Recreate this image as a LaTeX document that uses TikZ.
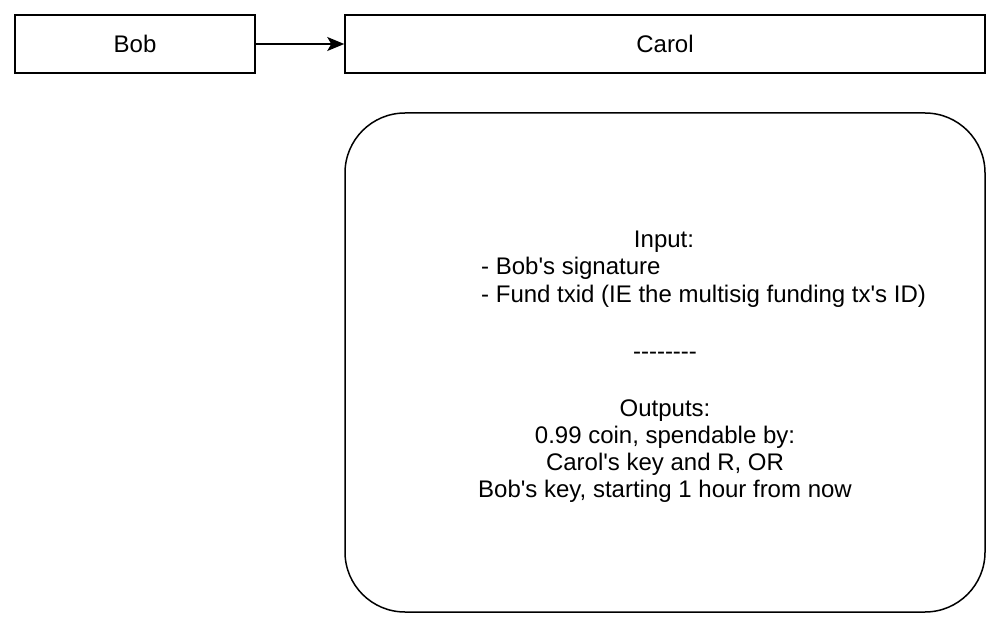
\documentclass[tikz,border=0pt]{standalone}
\usepackage{fontspec}
\setmainfont{Liberation Sans}[Ligatures=TeXOff]
\usetikzlibrary{arrows.meta}
\begin{document}
\begin{tikzpicture}[x=1pt,y=-1pt,
  box/.style={draw,line width=1.5pt,minimum width=240pt,minimum height=58pt,inner sep=0pt,font=\fontsize{24}{27}\selectfont},
  txt/.style={font=\fontsize{24}{27}\selectfont,inner sep=0pt,anchor=base},
  txtl/.style={font=\fontsize{24}{27}\selectfont,inner sep=0pt,anchor=base west}]
\useasboundingbox (0,0) rectangle (998,628);
\node[box] (bob) at (135,44) {Bob};
\node[box,minimum width=640pt] (carol) at (665,44) {Carol};
\draw[line width=1.5pt,-{Stealth[length=17pt,width=14pt,inset=4pt]}] (bob.east) -- (carol.west);
\node[draw,line width=1.5pt,rounded corners=60pt,minimum width=640pt,minimum height=499pt,inner sep=0pt] (tx) at (665,362.5) {};
\node[txt] (l1) at (664,248) {Input:};
\node[txtl] (l2) at (481,275) {- Bob's signature};
\node[txtl] (l3) at (481,302) {- Fund txid (IE the multisig funding tx's ID)};
\node[txt] (l4) at (665,359) {--------};
\node[txt] (l5) at (665,416) {Outputs:};
\node[txt] (l6) at (665,443) {0.99 coin, spendable by:};
\node[txt] (l7) at (665,470) {Carol's key and R, OR};
\node[txt] (l8) at (665,497) {Bob's key, starting 1 hour from now};
\end{tikzpicture}
\end{document}
